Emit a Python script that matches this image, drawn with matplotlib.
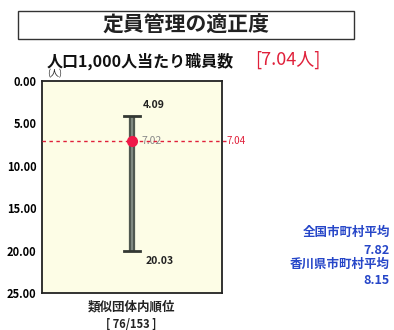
import matplotlib
matplotlib.use("Agg")
import matplotlib.pyplot as plt
from matplotlib.patches import Rectangle

plt.rcParams['font.family'] = ['Noto Sans CJK JP', 'DejaVu Sans']

# data
title = "定員管理の適正度"
subtitle = "人口1,000人当たり職員数"
value_label = "[7.04人]"
own_value = 7.04
group_min = 4.09
group_max = 20.03
group_avg = 7.02
y_ticks = [0, 5, 10, 15, 20, 25]
y_tick_labels = ["0.00", "5.00", "10.00", "15.00", "20.00", "25.00"]
rank_label = "類似団体内順位"
rank_text = "[ 76/153 ]"
national_label = "全国市町村平均"
national_avg = "7.82"
pref_label = "香川県市町村平均"
pref_avg = "8.15"

W, H = 394, 330
fig = plt.figure(figsize=(W / 100, H / 100), dpi=100)

# title box
fig.patches.append(Rectangle((18 / W, 1 - 39 / H), (354 - 18) / W, 28 / H,
                             transform=fig.transFigure, fill=False,
                             edgecolor='#333333', linewidth=1.0))
fig.text(186 / W, 1 - 25 / H, title, ha='center', va='center',
         fontsize=15, fontweight='bold', color='#222222')

fig.text(47 / W, 1 - 61 / H, subtitle, ha='left', va='center',
         fontsize=11.5, fontweight='bold', color='#111111')
fig.text(255 / W, 1 - 60 / H, value_label, ha='left', va='center',
         fontsize=13, color='#e0203a')

ax = fig.add_axes([42 / W, 1 - 293 / H, (222 - 42) / W, (293 - 81) / H])
ax.set_facecolor('#fdfde6')
ax.set_xlim(-1, 1)
ax.set_ylim(25, 0)
ax.set_yticks(y_ticks)
ax.set_yticklabels(y_tick_labels, fontsize=8, fontweight='bold')
ax.tick_params(axis='y', length=0, pad=4)
ax.set_xticks([])
for s in ax.spines.values():
    s.set_linewidth(1.3)
    s.set_color('#222222')

# range bar
ax.plot([0, 0], [group_min, group_max], color='#505850', linewidth=4.5,
        solid_capstyle='butt', zorder=3)
ax.plot([0, 0], [group_min, group_max], color='#8a948c', linewidth=1.2,
        solid_capstyle='butt', zorder=3)
for v in (group_min, group_max):
    ax.plot([-0.085, 0.085], [v, v], color='#333833', linewidth=2, zorder=3)

# own value dotted line
ax.plot([-1, 1.04], [own_value, own_value], color='#e0203a', linewidth=1.0,
        linestyle=(0, (2.5, 2.5)), clip_on=False, zorder=4)
ax.text(1.05, own_value, f"{own_value:.2f}", ha='left', va='center',
        fontsize=7, color='#e0203a')

# group average marker
ax.plot([0], [group_avg], marker='o', markersize=7, color='#f01848',
        markeredgecolor='#f01848', zorder=5)
ax.text(0.11, group_avg, f"{group_avg:.2f}", ha='left', va='center',
        fontsize=7.5, color='#888888', zorder=2)

ax.text(0.12, group_min - 1.3, f"{group_min:.2f}", ha='left', va='center',
        fontsize=7.5, fontweight='bold', color='#222222')
ax.text(0.15, group_max + 1.2, f"{group_max:.2f}", ha='left', va='center',
        fontsize=7.5, fontweight='bold', color='#222222')

fig.text(47 / W, 1 - 74 / H, "(人)", ha='left', va='center', fontsize=6.5,
         color='#222222')

fig.text(131 / W, 1 - 307 / H, rank_label, ha='center', va='center',
         fontsize=9, fontweight='bold', color='#222222')
fig.text(131 / W, 1 - 324 / H, rank_text, ha='center', va='center',
         fontsize=8, fontweight='bold', color='#222222')

blue = '#2646c8'
for txt, y in [(national_label, 232), (national_avg, 250),
               (pref_label, 264), (pref_avg, 281)]:
    fig.text(390 / W, 1 - y / H, txt, ha='right', va='center', fontsize=9,
             fontweight='bold', style='italic', color=blue)

fig.savefig("out.png", dpi=100)
